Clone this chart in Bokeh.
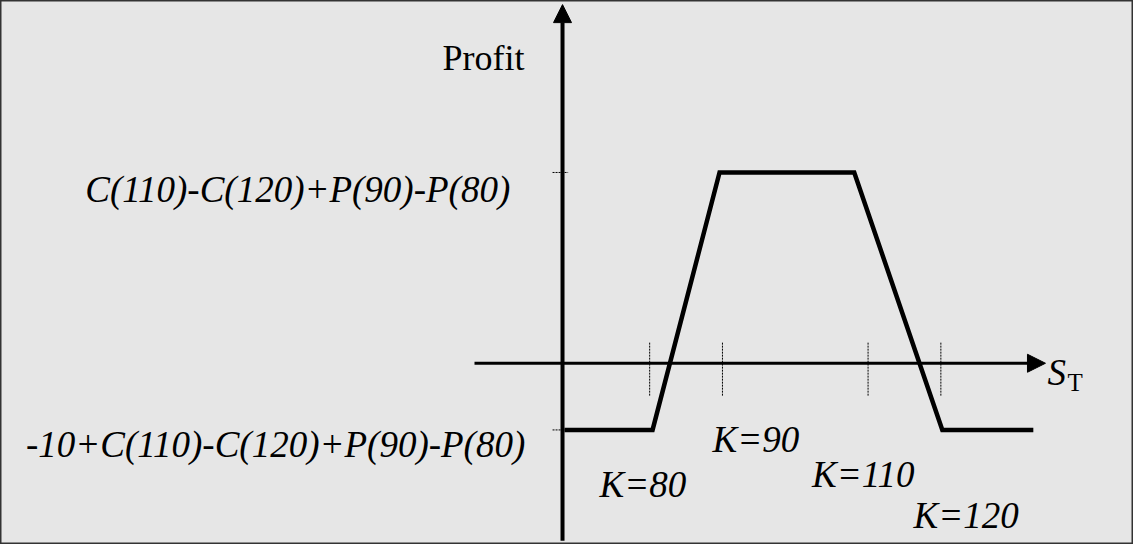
from bokeh.plotting import figure
from bokeh.models import Range1d, Arrow, NormalHead, ColumnDataSource
from bokeh.core.properties import value
from bokeh.embed import file_html
from bokeh.resources import INLINE

# ---- data (schematic bull/bear condor profit diagram) ----
strikes = [80, 90, 110, 120]
strike_labels = ["K=80", "K=90", "K=110", "K=120"]
net_credit = 7.41                      # C(110)-C(120)+P(90)-P(80)
spread_width = 10
payoff_s = [68.3, 80.4, 89.6, 108.1, 120.2, 132.7]
payoff_profit = [net_credit - spread_width, net_credit - spread_width,
                 net_credit, net_credit,
                 net_credit - spread_width, net_credit - spread_width]
level_labels = ["C(110)-C(120)+P(90)-P(80)", "-10+C(110)-C(120)+P(90)-P(80)"]
level_values = [net_credit, net_credit - spread_width]

# ---- positions (layout only) ----
y_axis_s = 68.03
x_axis_from, x_axis_to = 55.94, 134.37
y_axis_from, y_axis_to = -6.89, 13.93
strike_lab_x = [73.11, 88.63, 102.30, 116.24]
strike_lab_y = [-4.71, -2.96, -4.32, -5.91]
level_lab_x = [2.47, -5.67]
level_lab_y = [6.75, -3.16]

p = figure(width=1133, height=544, output_backend="svg", toolbar_location=None,
           x_range=Range1d(-9.17, 146.46), y_range=Range1d(-7.04, 14.09),
           min_border=0, x_axis_type=None, y_axis_type=None)
p.grid.visible = False
p.background_fill_color = "#e6e6e6"
p.border_fill_color = "#e6e6e6"
p.outline_line_color = "#333333"
p.outline_line_width = 2

# strike dotted markers
p.segment(x0=strikes, x1=strikes, y0=[0.8] * 4, y1=[-1.29] * 4,
          line_color="black", line_width=1, line_dash="2 1")
# level dotted ticks on profit axis
p.segment(x0=[66.66] * 2, x1=[68.8] * 2, y0=level_values, y1=level_values,
          line_color="black", line_width=1, line_dash="2 1")

# axes arrows
p.add_layout(Arrow(end=NormalHead(size=18, fill_color="black", line_color="black", line_width=1),
                   x_start=x_axis_from, y_start=0, x_end=x_axis_to, y_end=0,
                   line_color="black", line_width=3))
p.add_layout(Arrow(end=NormalHead(size=18, fill_color="black", line_color="black", line_width=1),
                   x_start=y_axis_s, y_start=y_axis_from, x_end=y_axis_s, y_end=y_axis_to,
                   line_color="black", line_width=4))

# payoff line
p.line(payoff_s, payoff_profit, line_color="black", line_width=4.5, line_join="miter")

serif = value("Liberation Serif")
p.text(x=[51.55], y=[11.87], text=["Profit"], text_font=serif, text_font_size="36px",
       text_baseline="alphabetic", text_align="left", text_color="black")
p.text(x=level_lab_x, y=level_lab_y, text=level_labels, text_font=serif,
       text_font_style="italic", text_font_size="37px",
       text_baseline="alphabetic", text_align="left", text_color="black")
p.text(x=strike_lab_x, y=strike_lab_y, text=strike_labels, text_font=serif,
       text_font_style="italic", text_font_size="37px",
       text_baseline="alphabetic", text_align="left", text_color="black")
p.text(x=[134.65], y=[-0.36], text=["S"], text_font=serif, text_font_style="italic",
       text_font_size="37px", text_baseline="alphabetic", text_align="left", text_color="black")
p.text(x=[137.40], y=[-0.75], text=["T"], text_font=serif,
       text_font_size="25px", text_baseline="alphabetic", text_align="left", text_color="black")

open("out.html", "w").write(file_html(p, INLINE))
